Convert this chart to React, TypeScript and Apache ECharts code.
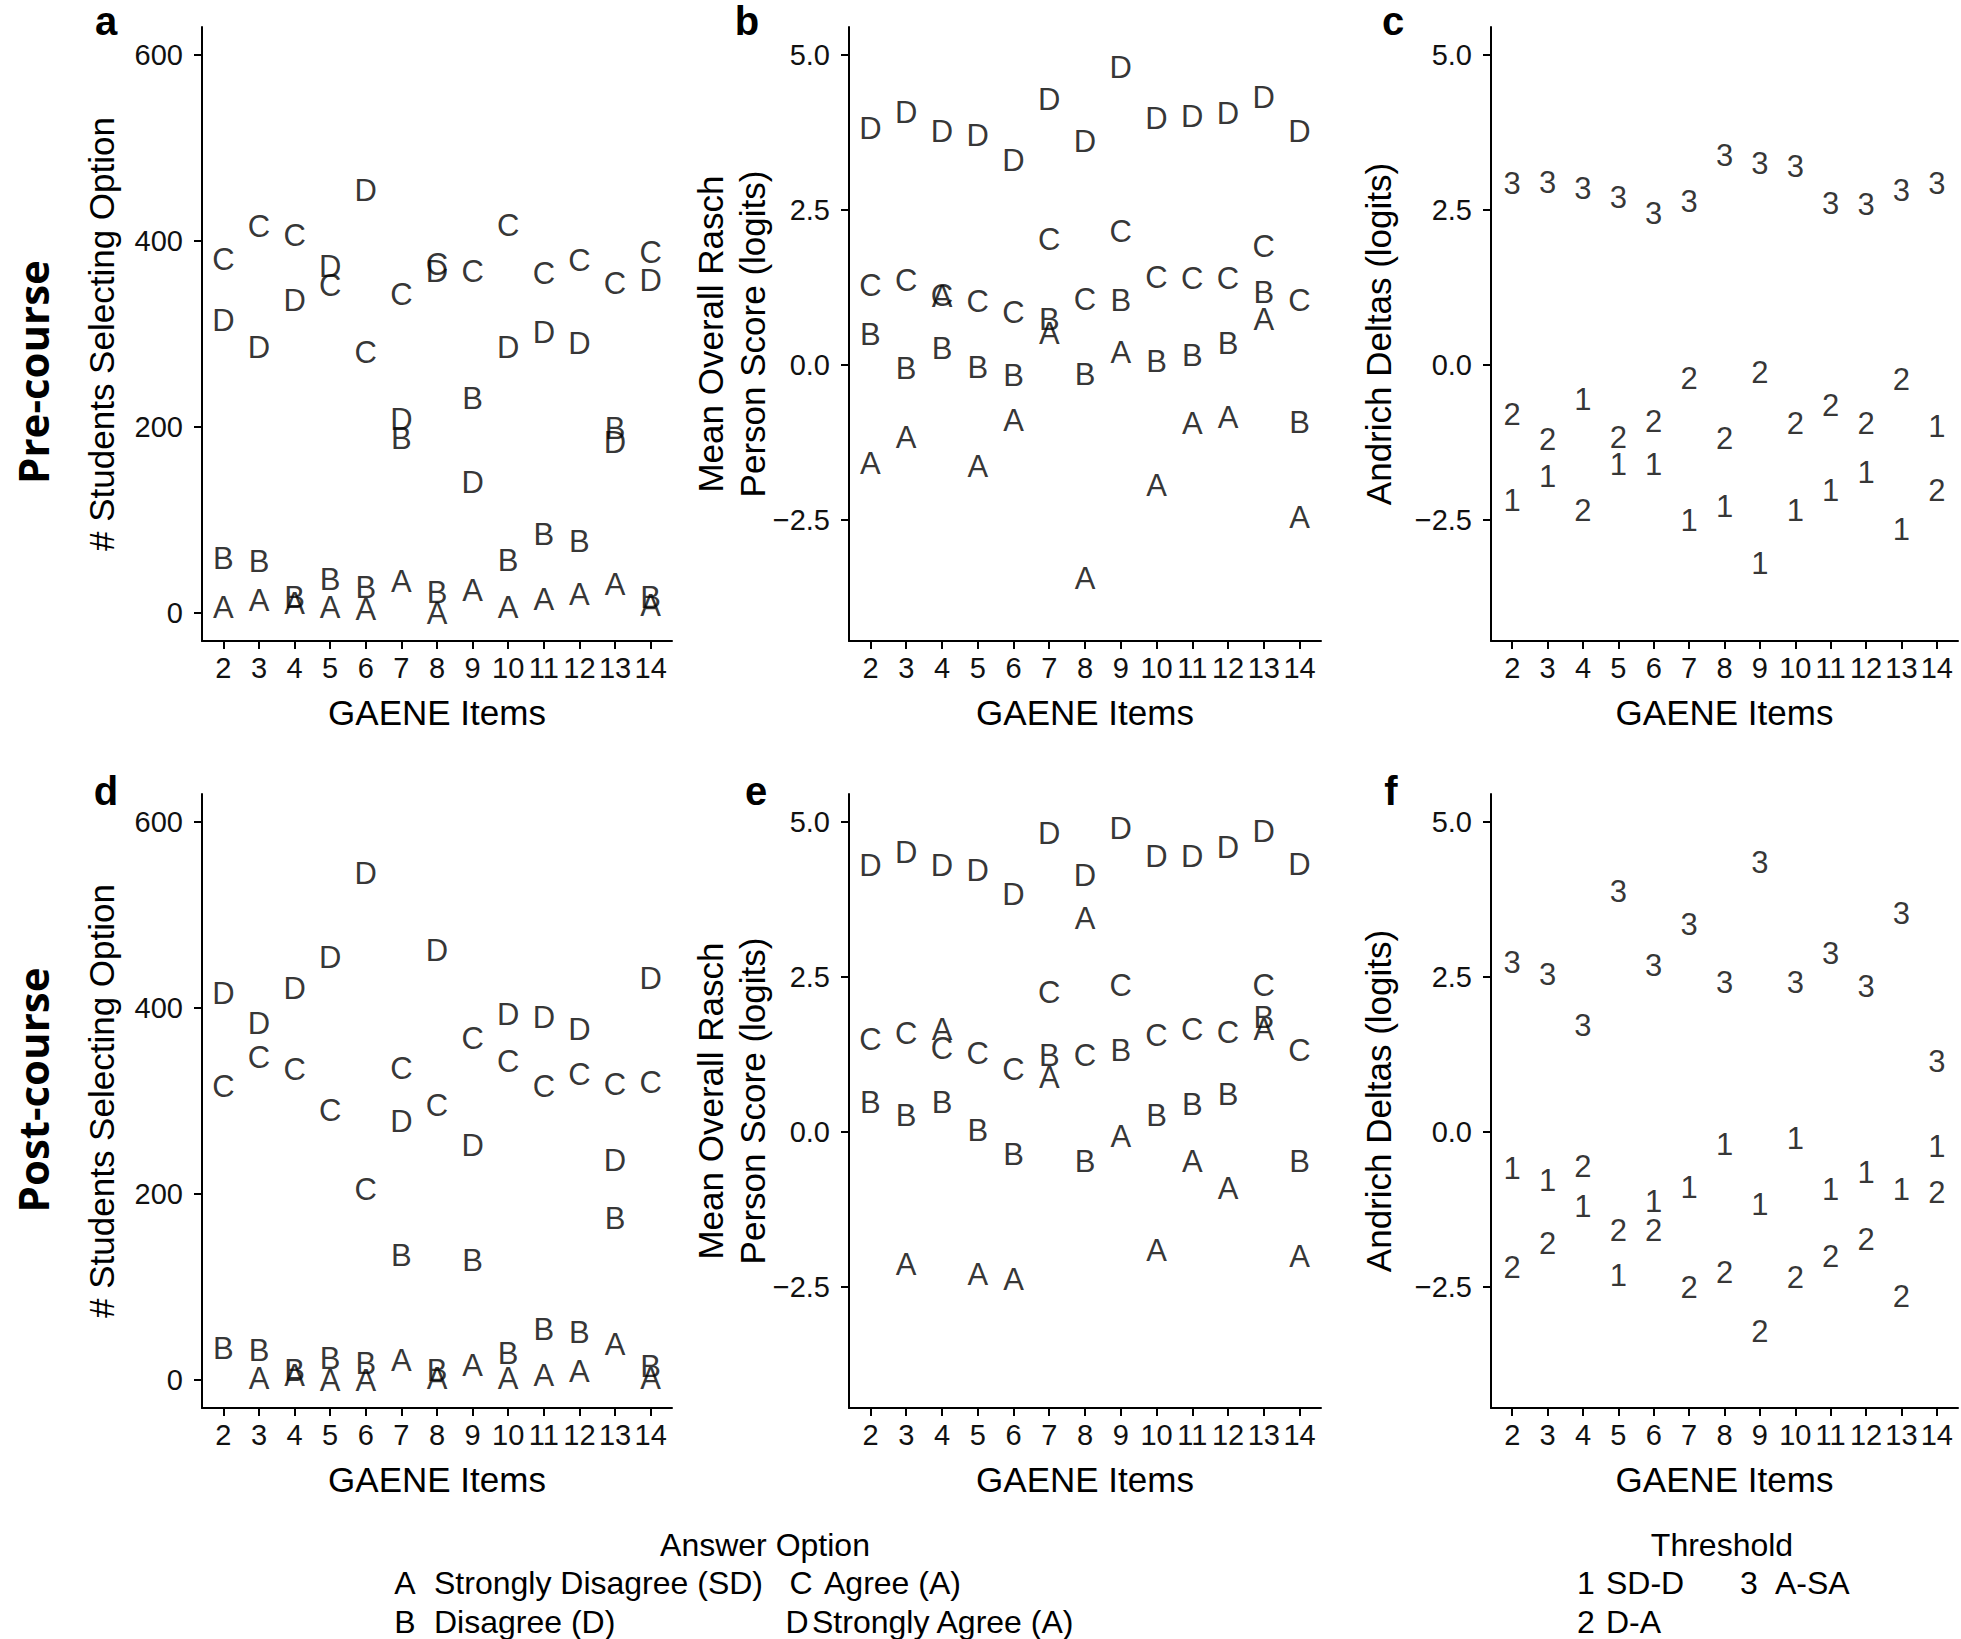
import React, { useEffect, useRef } from "react";
import * as echarts from "echarts";

const W = 1961;
const H = 1639;

// GAENE items on the x axis
const items = [2, 3, 4, 5, 6, 7, 8, 9, 10, 11, 12, 13, 14];

// Pre-course: # students selecting each option
const preCountA = [6, 13, 10, 6, 4, 34, 0, 24, 6, 15, 20, 31, 8];
const preCountB = [59, 55, 17, 36, 27, 188, 22, 231, 56, 84, 77, 198, 17];
const preCountC = [380, 416, 406, 352, 280, 342, 375, 367, 417, 365, 379, 354, 388];
const preCountD = [315, 285, 336, 373, 454, 208, 367, 140, 285, 302, 290, 183, 358];

// Pre-course: mean overall Rasch person score (logits)
const preRaschA = [-1.58, -1.17, 1.1, -1.63, -0.9, 0.51, -3.44, 0.2, -1.95, -0.95, -0.85, 0.73, -2.46];
const preRaschB = [0.49, -0.05, 0.27, -0.04, -0.17, 0.73, -0.15, 1.04, 0.06, 0.16, 0.35, 1.17, -0.93];
const preRaschC = [1.29, 1.37, 1.12, 1.02, 0.84, 2.02, 1.06, 2.16, 1.41, 1.39, 1.39, 1.91, 1.04];
const preRaschD = [3.81, 4.07, 3.76, 3.7, 3.3, 4.28, 3.6, 4.79, 3.97, 4.01, 4.06, 4.32, 3.77];

// Pre-course: Andrich deltas (logits)
const preDelta1 = [-2.19, -1.8, -0.56, -1.6, -1.6, -2.5, -2.28, -3.2, -2.34, -2.02, -1.73, -2.66, -0.99];
const preDelta2 = [-0.8, -1.2, -2.34, -1.17, -0.91, -0.21, -1.19, -0.12, -0.94, -0.66, -0.94, -0.23, -2.03];
const preDelta3 = [2.93, 2.95, 2.85, 2.7, 2.45, 2.64, 3.38, 3.25, 3.2, 2.6, 2.59, 2.81, 2.93];

// Post-course: # students selecting each option (no A for item 2)
const postCountA = [null, 2, 5, 0, 0, 21, 2, 16, 2, 5, 9, 38, 2];
const postCountB = [34, 32, 10, 23, 18, 134, 10, 129, 29, 54, 51, 174, 15];
const postCountC = [316, 347, 334, 290, 205, 335, 295, 367, 342, 316, 329, 318, 320];
const postCountD = [416, 383, 421, 454, 545, 278, 462, 252, 393, 390, 377, 236, 432];

// Post-course: mean overall Rasch person score (logits)
const postRaschA = [null, -2.14, 1.65, -2.3, -2.38, 0.88, 3.44, -0.08, -1.91, -0.47, -0.91, 1.66, -2.01];
const postRaschB = [0.47, 0.27, 0.47, 0.02, -0.37, 1.23, -0.47, 1.31, 0.26, 0.45, 0.61, 1.84, -0.47];
const postRaschC = [1.49, 1.59, 1.34, 1.27, 1.0, 2.25, 1.23, 2.37, 1.55, 1.65, 1.6, 2.37, 1.31];
const postRaschD = [4.3, 4.5, 4.3, 4.22, 3.83, 4.81, 4.14, 4.89, 4.44, 4.44, 4.59, 4.84, 4.32];

// Post-course: Andrich deltas (logits)
const postDelta1 = [-0.59, -0.78, -1.2, -2.32, -1.12, -0.89, -0.2, -1.17, -0.11, -0.93, -0.66, -0.93, -0.23];
const postDelta2 = [-2.19, -1.8, -0.56, -1.59, -1.58, -2.5, -2.27, -3.22, -2.34, -2.01, -1.73, -2.66, -0.98];
const postDelta3 = [2.73, 2.54, 1.72, 3.88, 2.68, 3.34, 2.41, 4.34, 2.41, 2.88, 2.34, 3.52, 1.14];

// Tick labels
const countTicks = [0, 200, 400, 600];
const logitTicks = [-2.5, 0, 2.5, 5];

const panelTags = ["a", "b", "c", "d", "e", "f"];
const rowLabels = ["Pre-course", "Post-course"];
const yTitles = ["# Students Selecting Option", "Mean Overall Rasch\nPerson Score (logits)", "Andrich Deltas (logits)"];
const xTitle = "GAENE Items";

const answerKeys = ["A", "B", "C", "D"];
const answerLabels = ["Strongly Disagree (SD)", "Disagree (D)", "Agree (A)", "Strongly Agree (A)"];
const thresholdKeys = ["1", "2", "3"];
const thresholdLabels = ["SD-D", "D-A", "A-SA"];

const FONT = "'Liberation Sans', Arial, Helvetica, sans-serif";

const cols = [
  { left: 202, width: 470, tagX: [106, 106], nameGap: 80 },
  { left: 849, width: 472, tagX: [747, 756], nameGap: 76 },
  { left: 1491, width: 467, tagX: [1393, 1391], nameGap: 92 },
];
const rows = [
  { top: 27, height: 614, labelY: 372, tagY: 21 },
  { top: 794, height: 614, labelY: 1090, tagY: 791 },
];

const panels = [
  { series: [preCountA, preCountB, preCountC, preCountD], keys: answerKeys, kind: "count" },
  { series: [preRaschA, preRaschB, preRaschC, preRaschD], keys: answerKeys, kind: "logit" },
  { series: [preDelta1, preDelta2, preDelta3], keys: thresholdKeys, kind: "logit" },
  { series: [postCountA, postCountB, postCountC, postCountD], keys: answerKeys, kind: "count" },
  { series: [postRaschA, postRaschB, postRaschC, postRaschD], keys: answerKeys, kind: "logit" },
  { series: [postDelta1, postDelta2, postDelta3], keys: thresholdKeys, kind: "logit" },
];

function fmtLogit(v: number) {
  return (v < 0 ? "\u2212" : "") + Math.abs(v).toFixed(1);
}

function buildOption() {
  const grid: any[] = [];
  const xAxis: any[] = [];
  const yAxis: any[] = [];
  const series: any[] = [];
  const graphic: any[] = [];

  panels.forEach((p, i) => {
    const ri = Math.floor(i / 3);
    const r = rows[ri];
    const c = cols[i % 3];
    grid.push({ left: c.left, top: r.top, width: c.width, height: r.height, containLabel: false, outerBoundsMode: "none" });
    const axisLine = { show: true, lineStyle: { color: "#000", width: 2 } };
    const axisTickBase = { show: true, length: 8, lineStyle: { color: "#000", width: 2 } };
    xAxis.push({
      gridIndex: i,
      type: "value",
      min: 1.4,
      max: 14.6,
      axisLine: { ...axisLine, onZero: false },
      axisTick: { ...axisTickBase, customValues: items },
      axisLabel: { customValues: items, fontSize: 29, color: "#111", margin: 12, fontFamily: FONT },
      splitLine: { show: false },
      name: xTitle,
      nameLocation: "middle",
      nameGap: 54,
      nameMoveOverlap: false,
      nameTextStyle: { fontSize: 35, color: "#000", fontFamily: FONT },
    });
    const isCount = p.kind === "count";
    yAxis.push({
      gridIndex: i,
      type: "value",
      min: isCount ? -30 : -4.45,
      max: isCount ? 630 : 5.45,
      axisLine: { ...axisLine, onZero: false },
      axisTick: { ...axisTickBase, customValues: isCount ? countTicks : logitTicks },
      axisLabel: {
        customValues: isCount ? countTicks : logitTicks,
        fontSize: 29,
        color: "#111",
        margin: 19,
        fontFamily: FONT,
        formatter: isCount ? (v: number) => String(v) : (v: number) => fmtLogit(v),
      },
      splitLine: { show: false },
      name: yTitles[i % 3],
      nameLocation: "middle",
      nameRotate: 90,
      nameGap: c.nameGap,
      nameMoveOverlap: false,
      nameTextStyle: { fontSize: 35, color: "#000", fontFamily: FONT, lineHeight: 42, align: "center" },
    });
    p.series.forEach((vals, k) => {
      const data = items
        .map((x, j) => [x, vals[j]])
        .filter((d) => d[1] !== null && d[1] !== undefined);
      const key = p.keys[k];
      series.push({
        type: "scatter",
        name: `${panelTags[i]}-${key}`,
        xAxisIndex: i,
        yAxisIndex: i,
        data,
        symbolSize: 1,
        silent: true,
        itemStyle: { color: "rgba(0,0,0,0)" },
        label: {
          show: true,
          position: "inside",
          formatter: () => key,
          fontSize: 31,
          color: "#000",
          fontFamily: FONT,
          align: "center",
          verticalAlign: "middle",
        },
        emphasis: { disabled: true },
      });
    });
    graphic.push({
      type: "text",
      x: c.tagX[ri],
      y: r.tagY,
      style: {
        text: panelTags[i],
        fontSize: 40,
        fontWeight: "bold",
        fontFamily: FONT,
        fill: "#000",
        align: "center",
        verticalAlign: "middle",
      },
    });
  });

  rows.forEach((r, ri) => {
    graphic.push({
      type: "text",
      x: 32,
      y: r.labelY,
      rotation: Math.PI / 2,
      style: {
        text: rowLabels[ri],
        fontSize: 42,
        lineHeight: 50,
        fontWeight: "bold",
        fontFamily: "'Open Sans', 'Noto Sans', sans-serif",
        fill: "#000",
        align: "center",
        verticalAlign: "middle",
      },
    });
  });

  const legFont = { fontSize: 32, fontFamily: FONT, fill: "#000" };
  const txt = (text: string, x: number, y: number, align: string) => ({
    type: "text",
    x,
    y,
    style: { ...legFont, text, align, verticalAlign: "middle" },
  });
  // Answer option legend
  graphic.push(txt("Answer Option", 765, 1545, "center"));
  graphic.push(txt(answerKeys[0], 405, 1583, "center"));
  graphic.push(txt(answerLabels[0], 434, 1583, "left"));
  graphic.push(txt(answerKeys[1], 405, 1622, "center"));
  graphic.push(txt(answerLabels[1], 434, 1622, "left"));
  graphic.push(txt(answerKeys[2], 801, 1583, "center"));
  graphic.push(txt(answerLabels[2], 824, 1583, "left"));
  graphic.push(txt(answerKeys[3], 797, 1622, "center"));
  graphic.push(txt(answerLabels[3], 812, 1622, "left"));
  // Threshold legend
  graphic.push(txt("Threshold", 1722, 1545, "center"));
  graphic.push(txt(thresholdKeys[0], 1586, 1583, "center"));
  graphic.push(txt(thresholdLabels[0], 1606, 1583, "left"));
  graphic.push(txt(thresholdKeys[1], 1586, 1622, "center"));
  graphic.push(txt(thresholdLabels[1], 1606, 1622, "left"));
  graphic.push(txt(thresholdKeys[2], 1749, 1583, "center"));
  graphic.push(txt(thresholdLabels[2], 1775, 1583, "left"));

  return {
    animation: false,
    backgroundColor: "#fff",
    grid,
    xAxis,
    yAxis,
    series,
    graphic,
  };
}

export default function App() {
  const ref = useRef<HTMLDivElement>(null);
  useEffect(() => {
    document.body.style.margin = "0";
    const el = ref.current;
    if (!el) return;
    const chart = echarts.init(el, null, { renderer: "svg", width: W, height: H });
    chart.setOption(buildOption() as any);
    return () => {
      chart.dispose();
    };
  }, []);
  return <div ref={ref} style={{ width: W, height: H, background: "#fff" }} />;
}
